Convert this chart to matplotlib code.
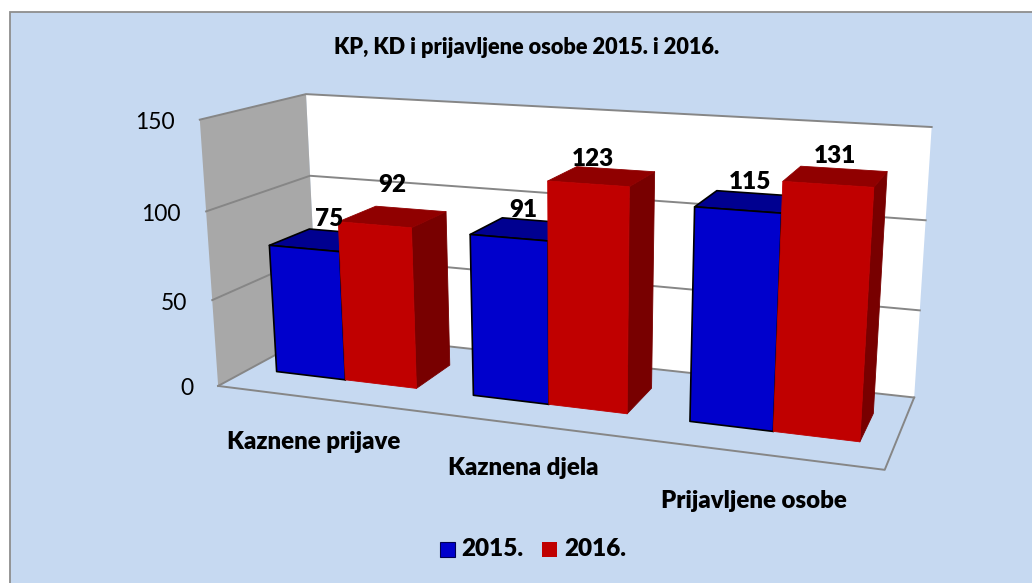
import numpy as np
import matplotlib
matplotlib.use('Agg')
import matplotlib.pyplot as plt
from matplotlib.patches import Polygon, Rectangle

categories = ['Kaznene prijave', 'Kaznena djela', 'Prijavljene osobe']
series_names = ['2015.', '2016.']
values_2015 = [75, 91, 115]
values_2016 = [92, 123, 131]
y_ticks = [0, 50, 100, 150]

# - # colours
bg = '#C6D9F1'
grid = '#868686'
blue = ['#0000CC', '#000090', '#00007A']
red = ['#C00000', '#900000', '#780000']

# - # box corners in the picture: (category, value, depth) -> pixel
anchors = [
    ((0, 0, 0), (218, 385)), ((0, 50, 0), (212, 300)), ((0, 100, 0), (206, 212)), ((0, 150, 0), (200, 120)),
    ((0, 0, 1), (318, 333)), ((0, 100, 1), (310, 175)), ((0, 150, 1), (306, 94)),
    ((3, 0, 1), (914, 397)), ((3, 50, 1), (920, 311)), ((3, 100, 1), (925, 220)), ((3, 150, 1), (932, 127)),
    ((3, 0, 0), (885, 470)),
]
A = []
b = []
for (X, Y, Z), (u, v) in anchors:
    A.append([X, Y, Z, 1, 0, 0, 0, 0, -u*X, -u*Y, -u*Z])
    A.append([0, 0, 0, 0, X, Y, Z, 1, -v*X, -v*Y, -v*Z])
    b += [u, v]
P = np.append(np.linalg.lstsq(np.array(A, float), np.array(b, float), rcond=None)[0], 1).reshape(3, 4)


def proj(x, y, z):
    p = P @ np.array([x, y, z, 1.0])
    return p[0]/p[2], p[1]/p[2]


fig = plt.figure(figsize=(10.32, 5.83), dpi=100)
ax = fig.add_axes([0, 0, 1, 1])
ax.set_xlim(0, 1032)
ax.set_ylim(583, 0)
ax.axis('off')
fig.patch.set_facecolor('white')
plt.rcParams['font.family'] = ['Lato', 'DejaVu Sans']
heavy = 'heavy'

# chart area, the right and bottom edges run off the picture
ax.add_patch(Rectangle((9.5, 11.5), 1040, 600, fc=bg, ec='#8E8E8E', lw=1.3, zorder=0))

# walls
ax.add_patch(Polygon([proj(0, 0, 1), proj(0, 150, 1), proj(3, 150, 1), proj(3, 0, 1)], fc='white', ec='none', zorder=1))
ax.add_patch(Polygon([proj(0, 0, 0), proj(0, 150, 0), proj(0, 150, 1), proj(0, 0, 1)], fc='#A8A8A8', ec='none', zorder=1))
for t in y_ticks:
    pts = [proj(0, t, 0), proj(0, t, 1), proj(3, t, 1)]
    ax.plot(*zip(*pts), color=grid, lw=1.4, zorder=2)
ax.plot(*zip(proj(0, 0, 0), proj(3, 0, 0), proj(3, 0, 1)), color=grid, lw=1.4, zorder=2)

# bars
bar_w = 0.36
gap = 1 - 2*bar_w
z0, z1 = 0.30, 0.70

# label shift from the top back edge of each bar, in pixels
label_shift_2015 = [(-14, -13), (-16, -11), (-8, -12)]
label_shift_2016 = [(-18, -24), (-22, -10), (-9, -13)]


def draw_bar(left, val, cols, edge, zo):
    right = left + bar_w
    side = [proj(right, 0, z0), proj(right, val, z0), proj(right, val, z1), proj(right, 0, z1)]
    top = [proj(left, val, z0), proj(right, val, z0), proj(right, val, z1), proj(left, val, z1)]
    front = [proj(left, 0, z0), proj(left, val, z0), proj(right, val, z0), proj(right, 0, z0)]
    for poly, col in zip([side, top, front], [cols[2], cols[1], cols[0]]):
        # red bars have no outline, a thin edge in the fill colour hides the seams
        ax.add_patch(Polygon(poly, fc=col, ec='black' if edge else col, lw=1.2 if edge else 0.6,
                             joinstyle='round', zorder=zo))


for i in range(len(categories)):
    left = i + gap/2
    draw_bar(left, values_2015[i], blue, True, 3 + i)
    draw_bar(left + bar_w, values_2016[i], red, False, 3 + i)
    for j, (v, shift) in enumerate([(values_2015[i], label_shift_2015[i]), (values_2016[i], label_shift_2016[i])]):
        x, y = proj(left + bar_w*(j + 0.5), v, z1)
        ax.text(x + shift[0], y + shift[1], str(v), ha='center', va='center', fontsize=17.5, fontweight=heavy, color='black', zorder=20)

# tick labels
for t in y_ticks:
    x, y = proj(0, t, 0)
    ax.text(x - 25, y + 3, str(t), ha='right', va='center', fontsize=16.5, color='black', zorder=20)

# category labels sit lower with each category
cat_pos = [(314, 442), (523, 468), (754, 501)]
for name, (x, y) in zip(categories, cat_pos):
    ax.text(x, y, name, ha='center', va='center', fontsize=17.3, fontweight=heavy, color='black')

ax.text(527, 47, 'KP, KD i prijavljene osobe 2015. i 2016.', ha='center', va='center', fontsize=15.65, fontweight=heavy, color='black')

# legend
for name, col, sx, ec in zip(series_names, [blue[0], red[0]], [439.5, 542], ['#000050', 'none']):
    ax.add_patch(Rectangle((sx, 541.5), 15, 15, fc=col, ec=ec, lw=0.8))
    ax.text(sx + 22, 549, name, ha='left', va='center', fontsize=17.5, fontweight=heavy, color='black')

fig.savefig('out.png', dpi=100)
